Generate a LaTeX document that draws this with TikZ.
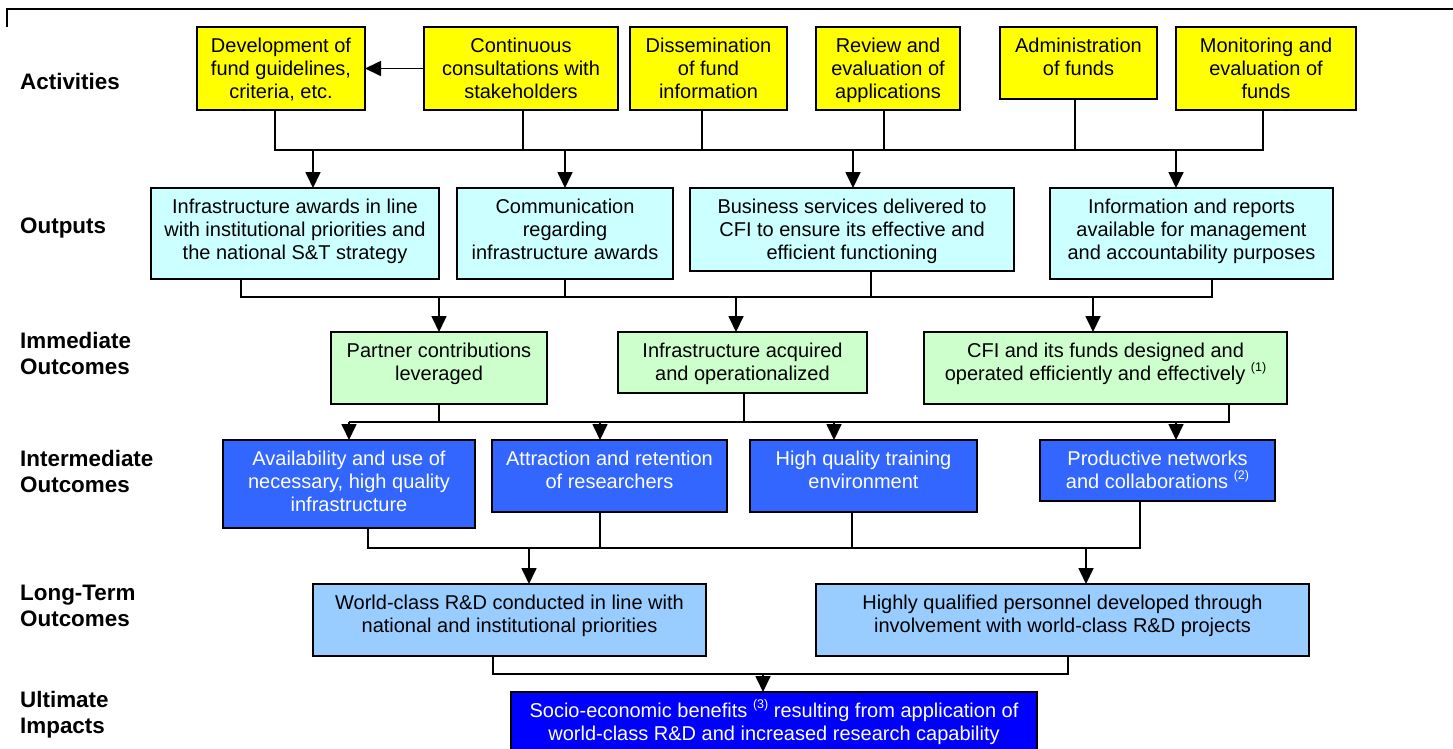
\documentclass[tikz,border=0pt]{standalone}
\usepackage{fontspec}
\setmainfont{Liberation Sans}
\usetikzlibrary{arrows.meta}
\definecolor{yelbox}{HTML}{FFFF00}
\definecolor{cyanbox}{HTML}{CCFFFF}
\definecolor{greenbox}{HTML}{CCFFCC}
\definecolor{bluebox}{HTML}{3366FF}
\definecolor{ltbluebox}{HTML}{99CCFF}
\definecolor{ultbox}{HTML}{0000FF}
\newcommand\boxtxt[3]{\parbox[c][#2][t]{#1}{\fontsize{20}{23}\selectfont\centering\rule{0pt}{25.5pt}#3\par}}
\newcommand\supnote[1]{\raisebox{9pt}{\fontsize{12.5}{12.5}\selectfont(#1)}}
\begin{document}
\begin{tikzpicture}[x=1pt,y=-1pt,
  box/.style={draw, line width=1.7pt, inner sep=0pt, outer sep=0pt, anchor=north west},
  actbox/.style={box, fill=yelbox},
  outbox/.style={box, fill=cyanbox},
  immbox/.style={box, fill=greenbox},
  intbox/.style={box, fill=bluebox, text=white},
  ltbox/.style={box, fill=ltbluebox},
  ultibox/.style={box, fill=ultbox, text=white},
  conn/.style={line width=1.7pt},
  arr/.style={line width=1.7pt, -{Triangle[length=16pt,width=15pt]}},
  rowlabel/.style={anchor=west, align=left, inner sep=0pt, font=\fontsize{22.4}{26}\selectfont\bfseries}]
\useasboundingbox (0,0) rectangle (1453,748);

% frame
\draw[line width=1.5pt] (7,27) -- (7,9) -- (1460,9);

% row labels
\node[rowlabel] (lab1) at (20,81.8) {Activities};
\node[rowlabel] (lab2) at (20,228.3) {Outputs};
\node[rowlabel] (lab3) at (20,353.8) {Immediate\\Outcomes};
\node[rowlabel] (lab4) at (20,471.8) {Intermediate\\Outcomes};
\node[rowlabel] (lab5) at (20,605.8) {Long-Term\\Outcomes};
\node[rowlabel] (lab6) at (20,715) {Ultimate\\Impacts};

% activities
\node[actbox] (a1) at (197,27) {\boxtxt{168pt}{83pt}{Development of\\fund guidelines,\\criteria, etc.}};
\node[actbox] (a2) at (424,27) {\boxtxt{194pt}{83pt}{Continuous\\consultations with\\stakeholders}};
\node[actbox] (a3) at (630,27) {\boxtxt{157pt}{83pt}{Dissemination\\of fund\\information}};
\node[actbox] (a4) at (816,27) {\boxtxt{144pt}{83pt}{Review and\\evaluation of\\applications}};
\node[actbox] (a5) at (1000,27) {\boxtxt{157pt}{72pt}{Administration\\of funds}};
\node[actbox] (a6) at (1176,27) {\boxtxt{180pt}{83pt}{Monitoring and\\evaluation of\\funds}};

% outputs
\node[outbox] (o1) at (151,188) {\boxtxt{288pt}{91pt}{Infrastructure awards in line\\with institutional priorities and\\the national S\&T strategy}};
\node[outbox] (o2) at (457,188) {\boxtxt{216pt}{91pt}{Communication\\regarding\\infrastructure awards}};
\node[outbox] (o3) at (690,188) {\boxtxt{324pt}{83pt}{Business services delivered to\\CFI to ensure its effective and\\efficient functioning}};
\node[outbox] (o4) at (1050,188) {\boxtxt{283pt}{91pt}{Information and reports\\available for management\\and accountability purposes}};

% immediate outcomes
\node[immbox] (i1) at (331,332) {\boxtxt{216pt}{72pt}{Partner contributions\\leveraged}};
\node[immbox] (i2) at (618,332) {\boxtxt{249pt}{61pt}{Infrastructure acquired\\and operationalized}};
\node[immbox] (i3) at (924,332) {\boxtxt{363pt}{72pt}{CFI and its funds designed and\\operated efficiently and effectively \supnote{1}}};

% intermediate outcomes
\node[intbox] (m1) at (223,440) {\boxtxt{252pt}{88pt}{Availability and use of\\necessary, high quality\\infrastructure}};
\node[intbox] (m2) at (492,440) {\boxtxt{235pt}{72pt}{Attraction and retention\\of researchers}};
\node[intbox] (m3) at (750,440) {\boxtxt{227pt}{72pt}{High quality training\\environment}};
\node[intbox] (m4) at (1040,440) {\boxtxt{235pt}{61pt}{Productive networks\\and collaborations \supnote{2}}};

% long-term outcomes
\node[ltbox] (l1) at (313,584) {\boxtxt{393pt}{72pt}{World-class R\&D conducted in line with\\national and institutional priorities}};
\node[ltbox] (l2) at (816,584) {\boxtxt{493pt}{72pt}{Highly qualified personnel developed through\\involvement with world-class R\&D projects}};

% ultimate impacts
\node[ultibox] (u) at (511,692) {\boxtxt{526pt}{62pt}{Socio-economic benefits \supnote{3} resulting from application of\\world-class R\&D and increased research capability}};

% bus levels
\coordinate (busA) at (0,150);
\coordinate (busB) at (0,297);
\coordinate (busC) at (0,422);
\coordinate (busD) at (0,548);
\coordinate (busE) at (0,674);

% activities -> outputs
\draw[arr] (a2.west) -- (a1.east);
\draw[conn] ([xshift=-6pt]a1.south) |- ([xshift=-3pt]a6.south |- busA) -- ([xshift=-3pt]a6.south);
\draw[conn] ([xshift=2pt]a2.south) -- ([xshift=2pt]a2.south |- busA);
\draw[conn] ([xshift=-6.5pt]a3.south) -- ([xshift=-6.5pt]a3.south |- busA);
\draw[conn] ([xshift=-4pt]a4.south) -- ([xshift=-4pt]a4.south |- busA);
\draw[conn] ([xshift=-3.5pt]a5.south) -- ([xshift=-3.5pt]a5.south |- busA);
\draw[arr] ([xshift=18pt]o1.north |- busA) -- ([xshift=18pt]o1.north);
\draw[arr] (o2.north |- busA) -- (o2.north);
\draw[arr] ([xshift=1pt]o3.north |- busA) -- ([xshift=1pt]o3.north);
\draw[arr] ([xshift=-15.5pt]o4.north |- busA) -- ([xshift=-15.5pt]o4.north);

% outputs -> immediate
\draw[conn] ([xshift=-54pt]o1.south) |- ([xshift=20.5pt]o4.south |- busB) -- ([xshift=20.5pt]o4.south);
\draw[conn] (o2.south) -- (o2.south |- busB);
\draw[conn] ([xshift=19pt]o3.south) -- ([xshift=19pt]o3.south |- busB);
\draw[arr] (i1.north |- busB) -- (i1.north);
\draw[arr] ([xshift=-6.5pt]i2.north |- busB) -- ([xshift=-6.5pt]i2.north);
\draw[arr] ([xshift=-12.5pt]i3.north |- busB) -- ([xshift=-12.5pt]i3.north);

% immediate -> intermediate
\draw[conn] (m1.north |- busC) -- ([xshift=123.5pt]i3.south |- busC) -- ([xshift=123.5pt]i3.south);
\draw[conn] (i1.south) -- (i1.south |- busC);
\draw[conn] ([xshift=1.5pt]i2.south) -- ([xshift=1.5pt]i2.south |- busC);
\draw[arr] (m1.north |- busC) -- (m1.north);
\draw[arr] ([xshift=-9.5pt]m2.north |- busC) -- ([xshift=-9.5pt]m2.north);
\draw[arr] ([xshift=-29.5pt]m3.north |- busC) -- ([xshift=-29.5pt]m3.north);
\draw[arr] ([xshift=18.5pt]m4.north |- busC) -- ([xshift=18.5pt]m4.north);

% intermediate -> long-term
\draw[conn] ([xshift=19pt]m1.south) |- ([xshift=-17.5pt]m4.south |- busD) -- ([xshift=-17.5pt]m4.south);
\draw[conn] ([xshift=-9.5pt]m2.south) -- ([xshift=-9.5pt]m2.south |- busD);
\draw[conn] ([xshift=-11.5pt]m3.south) -- ([xshift=-11.5pt]m3.south |- busD);
\draw[arr] ([xshift=19.5pt]l1.north |- busD) -- ([xshift=19.5pt]l1.north);
\draw[arr] ([xshift=23.5pt]l2.north |- busD) -- ([xshift=23.5pt]l2.north);

% long-term -> ultimate
\draw[conn] ([xshift=-16.5pt]l1.south) |- ([xshift=5.5pt]l2.south |- busE) -- ([xshift=5.5pt]l2.south);
\draw[arr] ([xshift=-11pt]u.north |- busE) -- ([xshift=-11pt]u.north);
\end{tikzpicture}
\end{document}
